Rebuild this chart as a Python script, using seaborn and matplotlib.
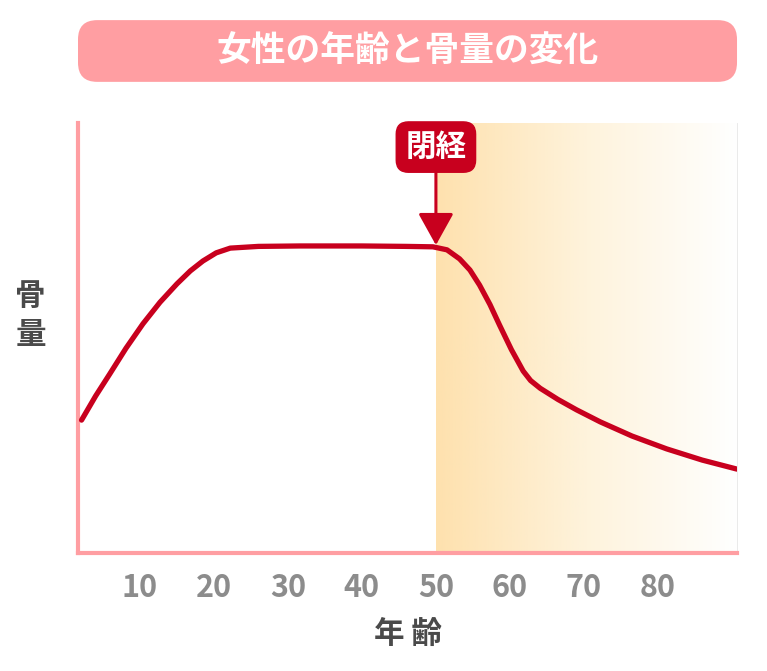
import numpy as np
import pandas as pd
import matplotlib.pyplot as plt
import seaborn as sns
from matplotlib.patches import FancyBboxPatch
from matplotlib.colors import LinearSegmentedColormap

# bone mass curve (age, relative bone mass)
ages = [2.1, 4.0, 5.9, 8.1, 10.4, 12.7, 15.0, 16.8, 18.5, 20.3, 22.2, 26.0, 31.6, 40.0, 46.0, 49.6,
        51.5, 53.2, 54.6, 55.9, 57.3, 58.6, 60.2, 61.8, 62.8, 64.1, 66.5, 69.0, 72.2, 76.5, 81.2, 86.0, 90.7]
bone_mass = [30.9, 36.5, 41.6, 47.6, 53.3, 58.3, 62.6, 65.6, 67.9, 69.8, 70.9, 71.3, 71.4, 71.4, 71.3, 71.2,
             70.5, 68.4, 65.8, 62.3, 57.8, 53.0, 47.3, 42.3, 40.1, 38.3, 35.7, 33.3, 30.5, 27.2, 24.2, 21.6, 19.5]
tick_ages = [10, 20, 30, 40, 50, 60, 70, 80]
menopause_age = 50

title = "女性の年齢と骨量の変化"
x_label = "年 齢"
y_label = "骨\n量"
marker_label = "閉経"

df = pd.DataFrame({"age": ages, "bone": bone_mass})

sns.set_theme(style="white")
plt.rcParams["font.family"] = ["Noto Sans CJK JP", "DejaVu Sans"]

red = "#C8001E"
pink = "#FF9EA2"

fig = plt.figure(figsize=(7.67, 6.71), dpi=100)
ax = fig.add_axes([0.1017, 0.1759, 0.8592, 0.6408])
ax.set_xlim(1.62, 90.7)
ax.set_ylim(0, 100)

# gradient shading after menopause
cmap = LinearSegmentedColormap.from_list("fade", ["#FEE1AE", "#FEF3DC", "#FFFFFF"])
grad = np.linspace(0, 1, 256).reshape(1, -1)
ax.imshow(grad, cmap=cmap, aspect="auto", extent=[menopause_age, 90.7, 0, 100], zorder=0)

sns.lineplot(data=df, x="age", y="bone", ax=ax, color=red, linewidth=3.8,
             solid_capstyle="round", solid_joinstyle="round", zorder=3)

# menopause marker with arrow
ax.annotate(marker_label, xy=(menopause_age, 71.6), xytext=(menopause_age, 94.4),
            ha="center", va="center", color="white", fontsize=22, fontweight="bold",
            bbox=dict(boxstyle="round,pad=0.3,rounding_size=0.4", fc=red, ec=red),
            arrowprops=dict(arrowstyle="-|>,head_length=0.9,head_width=0.5", color=red, lw=2.2,
                            shrinkA=0, shrinkB=0),
            annotation_clip=False, zorder=5)

ax.set_xticks(tick_ages)
ax.set_xticklabels([str(t) for t in tick_ages], fontsize=22, fontweight="bold", color="#8C8C8C")
ax.set_yticks([])
ax.tick_params(axis="x", length=0, pad=14)
ax.set_xlabel(x_label, fontsize=22, fontweight="bold", color="#4A4A4A", labelpad=10)
ax.set_ylabel("")
fig.text(0.04, 0.53, y_label, fontsize=22, fontweight="bold", color="#4A4A4A",
         ha="center", va="center", linespacing=1.3)

ax.spines["top"].set_visible(False)
ax.spines["right"].set_color("#E6E6E6")
ax.spines["right"].set_linewidth(0.6)
for side in ["left", "bottom"]:
    ax.spines[side].set_color(pink)
    ax.spines[side].set_linewidth(3)

# title banner
banner = FancyBboxPatch((0.1017, 0.878), 0.8592, 0.092, boxstyle="round,pad=0,rounding_size=0.025",
                        transform=fig.transFigure, fc=pink, ec="none", mutation_aspect=767 / 671)
fig.patches.append(banner)
fig.text(0.531, 0.924, title, fontsize=25, fontweight="bold", color="white", ha="center", va="center")

plt.savefig("out.png", dpi=100)
plt.close()
